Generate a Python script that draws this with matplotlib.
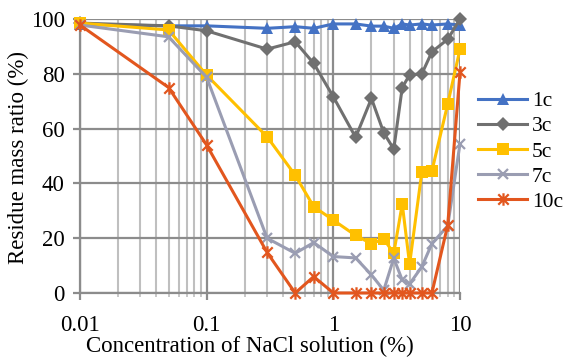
import numpy as np
import matplotlib
matplotlib.use("Agg")
import matplotlib.pyplot as plt
from matplotlib.path import Path
from matplotlib.ticker import LogLocator, NullFormatter, FixedLocator

plt.rcParams['font.family'] = ['Liberation Serif', 'DejaVu Serif']

# concentration of NaCl solution (%)
conc = [0.01, 0.05, 0.1, 0.3, 0.5, 0.7, 1, 1.5, 2, 2.5, 3, 3.5, 4, 5, 6, 8, 10]

# residue mass ratio (%) per number of cycles
c1 = [98, 97.5, 97.5, 96.6, 97.2, 96.6, 98.2, 98.2, 97.4, 97.4, 96.6, 98.2, 97.8, 98.2, 97.8, 98.2, 97.8]
c3 = [98.5, 97.5, 95.7, 89, 91.7, 83.8, 71.6, 56.8, 71, 58.5, 52.5, 75, 79.6, 80, 88, 92.6, 100]
c5 = [98.5, 96, 79.5, 57, 43, 31.5, 26.6, 21, 18, 19.7, 14.5, 32.5, 10.5, 44.3, 44.5, 69, 89]
c7 = [97.8, 93.5, 78.7, 20, 14.5, 18.4, 13.3, 12.8, 6.6, 1, 12.7, 4.7, 3.3, 9.6, 18, 24.5, 54.5]
c10 = [97.8, 75, 54, 14.8, 0, 6, 0, 0, 0, 0, 0, 0, 0, 0, 0, 24.8, 80.5]

labels = ['1c', '3c', '5c', '7c', '10c']
colors = ['#4472C4', '#707070', '#FFC000', '#9A9DB2', '#E2561E']

# excel-like star marker: an x with a vertical bar
star = Path([(-1, -1), (1, 1), (-1, 1), (1, -1), (0, -1.2), (0, 1.2)],
            [Path.MOVETO, Path.LINETO, Path.MOVETO, Path.LINETO, Path.MOVETO, Path.LINETO])

styles = [
    dict(marker='^', ms=9, mew=0),
    dict(marker='D', ms=7, mew=0),
    dict(marker='s', ms=9, mew=0),
    dict(marker='x', ms=7.5, mew=1.6),
    dict(marker=star, ms=9, mew=1.6),
]

fig = plt.figure(figsize=(5.68, 3.63), dpi=100)
ax = fig.add_axes([80 / 568, 1 - 293 / 363, 380 / 568, 274 / 363])

for y, lab, col, st in zip([c1, c3, c5, c7, c10], labels, colors, styles):
    ax.plot(conc, y, color=col, lw=2.2, label=lab, mfc=col, mec=col,
            clip_on=False, zorder=3, **st)

ax.set_xscale('log')
ax.set_xlim(0.01, 10)
ax.set_ylim(0, 100)
ax.set_yticks(np.arange(0, 101, 20))
ax.xaxis.set_major_locator(FixedLocator([0.01, 0.1, 1, 10]))
ax.set_xticklabels(['0.01', '0.1', '1', '10'])
ax.xaxis.set_minor_locator(LogLocator(base=10, subs=np.arange(2, 10)))
ax.xaxis.set_minor_formatter(NullFormatter())

ax.grid(True, which='major', color='#8C8C8C', lw=1.6, zorder=1)
ax.grid(True, which='minor', axis='x', color='#BFBFBF', lw=1.5, zorder=1)
ax.set_axisbelow(True)

for side in ['top', 'right']:
    ax.spines[side].set_visible(False)
for side in ['left', 'bottom']:
    ax.spines[side].set_color('#8C8C8C')
    ax.spines[side].set_linewidth(1.6)

ax.tick_params(axis='both', which='major', direction='out', length=5, width=1.6,
               color='#8C8C8C', labelsize=16.5)
ax.tick_params(axis='x', which='minor', direction='out', length=3, width=1.2, color='#BFBFBF')
ax.tick_params(axis='x', which='major', pad=11)
ax.tick_params(axis='y', which='major', pad=6)

fig.text(18 / 568, 1 - 157 / 363, 'Residue mass ratio (%)', fontsize=16.5,
         rotation=90, ha='center', va='center')
fig.text(250 / 568, 1 - 346 / 363, 'Concentration of NaCl solution (%)', fontsize=16.5,
         ha='center', va='center')

ax.legend(loc='upper left', bbox_to_anchor=(478 / 568, 1 - 91 / 363),
          bbox_transform=fig.transFigure, frameon=False, fontsize=15.5,
          handlelength=2.28, handletextpad=0.22, labelspacing=0.24,
          borderpad=0, borderaxespad=0)

fig.savefig('out.png', dpi=100)
